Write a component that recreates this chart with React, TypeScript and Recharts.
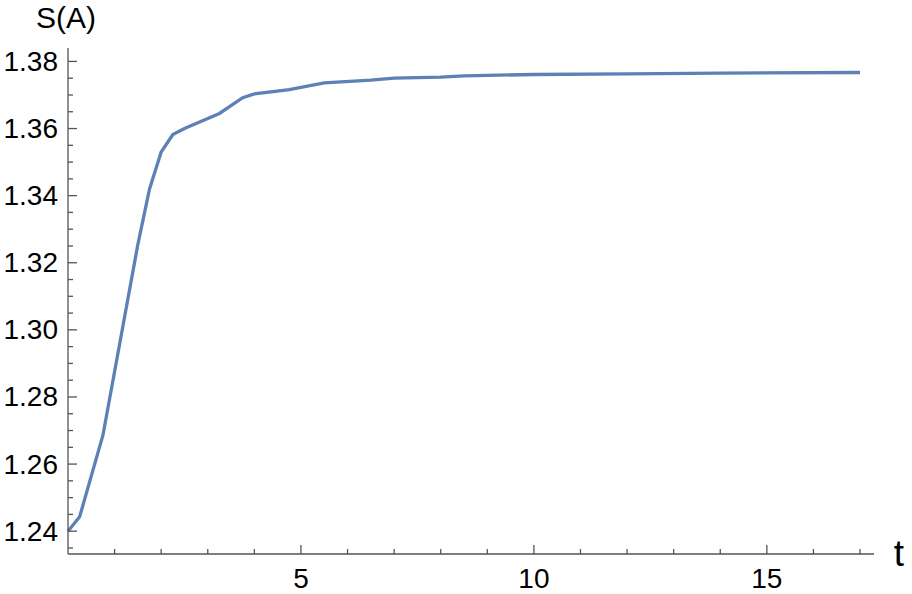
import { LineChart, Line, XAxis, YAxis } from "recharts";

// sample times and S(A) values
const times = [0, 0.25, 0.75, 1.5, 1.75, 2.0, 2.25, 2.5, 2.75, 3.25, 3.75, 4.0, 4.75, 5.5, 6.5, 7.0, 8.0, 8.5, 10, 12, 14, 17];
const entropy = [
  1.24, 1.2443, 1.2686, 1.3255, 1.342, 1.353, 1.3582, 1.36, 1.3615, 1.3645, 1.3692, 1.3703, 1.3716,
  1.3736, 1.3744, 1.375, 1.3753, 1.3757, 1.3761, 1.3763, 1.3765, 1.3767,
];

const xMajor = [5, 10, 15];
const xTicks = [1, 2, 3, 4, 5, 6, 7, 8, 9, 10, 11, 12, 13, 14, 15, 16, 17];
const yMajor = [1.24, 1.26, 1.28, 1.3, 1.32, 1.34, 1.36, 1.38];
const yTicks = [1.235, ...yMajor.flatMap((v, i) => (i < yMajor.length - 1 ? [v, v + 0.005, v + 0.01, v + 0.015] : [v]))];

const data = times.map((t, i) => ({ t, s: entropy[i] }));

const AXIS = "#555555";
const FONT = "'Liberation Sans', Arial, sans-serif";

const isMajorY = (v: number) => yMajor.some((m) => Math.abs(m - v) < 1e-6);

const YTick = ({ x, y, payload }: any) => {
  const major = isMajorY(payload.value);
  return (
    <g>
      <line x1={x} x2={x + (major ? 9 : 5)} y1={y} y2={y} stroke={AXIS} strokeWidth={1.3} />
      {major && (
        <text x={x - 10} y={y} textAnchor="end" dominantBaseline="central" fontSize={28} fontFamily={FONT} fill="#000">
          {payload.value.toFixed(2)}
        </text>
      )}
    </g>
  );
};

const XTick = ({ x, y, payload }: any) => {
  const major = xMajor.includes(payload.value);
  return (
    <g>
      <line x1={x} x2={x} y1={y} y2={y - (major ? 9 : 5)} stroke={AXIS} strokeWidth={1.3} />
      {major && (
        <text x={x} y={y + 34} textAnchor="middle" fontSize={28} fontFamily={FONT} fill="#000">
          {payload.value}
        </text>
      )}
    </g>
  );
};

export default function App() {
  return (
    <div style={{ position: "absolute", left: 0, top: 0, background: "#fff" }}>
      <LineChart width={912} height={594} data={data} margin={{ top: 48, right: 38, bottom: 0, left: 0 }}>
        <XAxis
          dataKey="t"
          type="number"
          domain={[0, 17.3]}
          ticks={xTicks}
          interval={0}
          tick={<XTick />}
          tickLine={false}
          tickSize={0}
          tickMargin={0}
          height={40}
          axisLine={{ stroke: AXIS, strokeWidth: 1.3 }}
        />
        <YAxis
          type="number"
          domain={[1.2332, 1.384]}
          ticks={yTicks}
          interval={0}
          tick={<YTick />}
          tickLine={false}
          tickSize={0}
          tickMargin={0}
          width={68}
          axisLine={{ stroke: AXIS, strokeWidth: 1.3 }}
          allowDataOverflow
        />
        <Line type="linear" dataKey="s" stroke="#5E81B5" strokeWidth={3.3} dot={false} isAnimationActive={false} />
        <text x={66} y={28} textAnchor="middle" fontSize={30} fontFamily={FONT} fill="#000">
          S(A)
        </text>
        <text x={899} y={566} textAnchor="middle" fontSize={37} fontFamily={FONT} fill="#000">
          t
        </text>
      </LineChart>
    </div>
  );
}
